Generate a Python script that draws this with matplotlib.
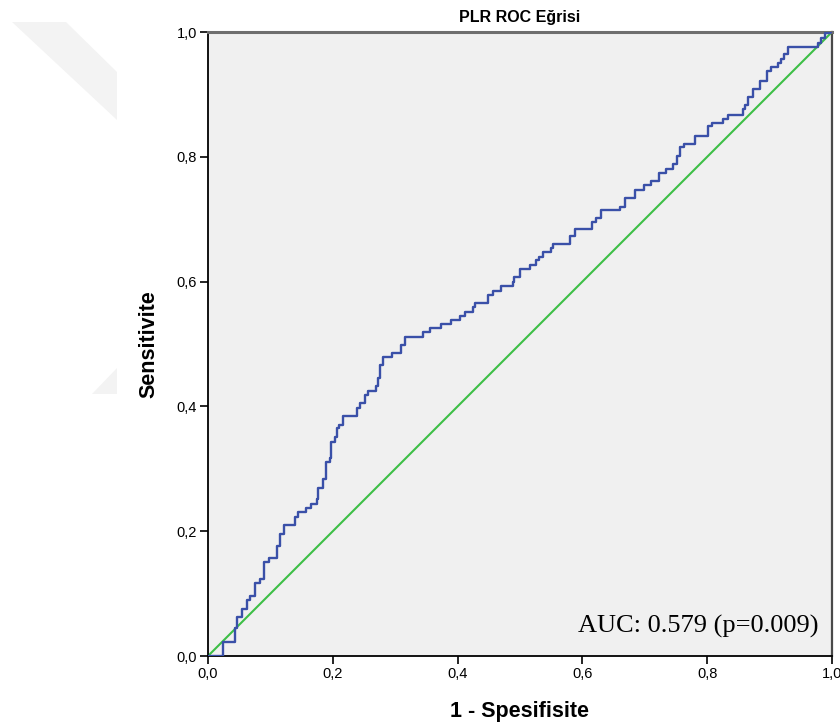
import matplotlib
matplotlib.use("Agg")
import matplotlib.pyplot as plt
from matplotlib.patches import Polygon

title = "PLR ROC Eğrisi"
xlabel = "1 - Spesifisite"
ylabel = "Sensitivite"
auc_text = "AUC: 0.579 (p=0.009)"
tick_values = [0.0, 0.2, 0.4, 0.6, 0.8, 1.0]
tick_labels = ["0,0", "0,2", "0,4", "0,6", "0,8", "1,0"]

fpr = [0.0, 0.0245, 0.043, 0.046, 0.054, 0.062, 0.067, 0.075, 0.083, 0.090, 0.097,
       0.111, 0.115, 0.121, 0.139, 0.144, 0.157, 0.165, 0.174, 0.176, 0.185, 0.189,
       0.196, 0.197, 0.204, 0.206, 0.210, 0.216, 0.239, 0.244, 0.252, 0.257, 0.269,
       0.273, 0.276, 0.281, 0.295, 0.310, 0.315, 0.344, 0.356, 0.374, 0.390, 0.404,
       0.412, 0.424, 0.428, 0.449, 0.457, 0.470, 0.488, 0.490, 0.500, 0.516, 0.526,
       0.531, 0.537, 0.549, 0.553, 0.580, 0.588, 0.615, 0.622, 0.630, 0.660, 0.668,
       0.684, 0.698, 0.710, 0.722, 0.734, 0.745, 0.751, 0.756, 0.763, 0.780, 0.802,
       0.807, 0.826, 0.834, 0.857, 0.861, 0.865, 0.873, 0.885, 0.896, 0.903, 0.914,
       0.919, 0.923, 0.929, 0.978, 0.982, 0.989, 0.997, 1.0]
tpr = [0.0, 0.022, 0.045, 0.062, 0.075, 0.089, 0.096, 0.117, 0.123, 0.150, 0.157,
       0.177, 0.196, 0.210, 0.223, 0.230, 0.237, 0.243, 0.251, 0.270, 0.284, 0.311,
       0.318, 0.343, 0.351, 0.365, 0.370, 0.385, 0.397, 0.405, 0.418, 0.424, 0.432,
       0.445, 0.466, 0.479, 0.485, 0.498, 0.512, 0.520, 0.525, 0.532, 0.538, 0.545,
       0.552, 0.559, 0.566, 0.579, 0.585, 0.593, 0.600, 0.608, 0.620, 0.627, 0.634,
       0.640, 0.647, 0.654, 0.660, 0.673, 0.685, 0.695, 0.702, 0.715, 0.720, 0.734,
       0.747, 0.755, 0.762, 0.774, 0.780, 0.788, 0.801, 0.815, 0.821, 0.834, 0.849,
       0.854, 0.860, 0.867, 0.876, 0.883, 0.896, 0.909, 0.922, 0.937, 0.944, 0.951,
       0.956, 0.964, 0.976, 0.983, 0.990, 0.998, 1.0, 1.0]
ref_line = [0.0, 1.0]

sans = ["Liberation Sans", "DejaVu Sans"]

W, H = 840, 728
fig = plt.figure(figsize=(W / 100, H / 100), dpi=100)

# faint watermark shapes in the background
def px(x, y):
    return (x / W, 1 - y / H)
wm1 = Polygon([px(12, 22), px(66, 22), px(117, 72), px(117, 120)], closed=True,
              transform=fig.transFigure, facecolor="#f3f3f3", edgecolor="none", zorder=0)
wm2 = Polygon([px(92, 394), px(117, 368), px(117, 394)], closed=True,
              transform=fig.transFigure, facecolor="#f3f3f3", edgecolor="none", zorder=0)
fig.patches.extend([wm1, wm2])

ax = fig.add_axes([208 / W, 1 - 656 / H, (832 - 208) / W, (656 - 32) / H])
ax.set_facecolor("#f0f0f0")

ax.plot(ref_line, ref_line, color="#3dbf46", lw=1.5, zorder=2)
ax.plot(fpr, tpr, drawstyle="steps-post", color="#3a50a8", lw=1.7, zorder=3)

ax.set_xlim(0, 1)
ax.set_ylim(0, 1)
ax.set_xticks(tick_values)
ax.set_xticklabels(tick_labels)
ax.set_yticks(tick_values)
ax.set_yticklabels(tick_labels)
ax.tick_params(axis="both", direction="out", length=6, width=1.2, color="black",
               labelsize=10.5, pad=2)
for lab in ax.get_xticklabels() + ax.get_yticklabels():
    lab.set_family(sans)

for side in ["left", "bottom"]:
    ax.spines[side].set_color("black")
    ax.spines[side].set_linewidth(1.3)
ax.spines["top"].set_color("#6e6e6e")
ax.spines["top"].set_linewidth(2.2)
ax.spines["right"].set_color("#4a4a4a")
ax.spines["right"].set_linewidth(1.6)

ax.set_title(title, fontsize=11.5, fontweight="bold", family=sans, pad=7)
ax.set_xlabel(xlabel, fontsize=15.5, fontweight="bold", family=sans, labelpad=14)
ax.set_ylabel(ylabel, fontsize=15.5, fontweight="bold", family=sans, labelpad=12)

ax.text(0.978, 0.048, auc_text, transform=ax.transAxes, ha="right", va="center",
        fontsize=19, family=["Liberation Serif", "DejaVu Serif"], color="black", zorder=4)

fig.savefig("out.png", dpi=100, facecolor="white")
